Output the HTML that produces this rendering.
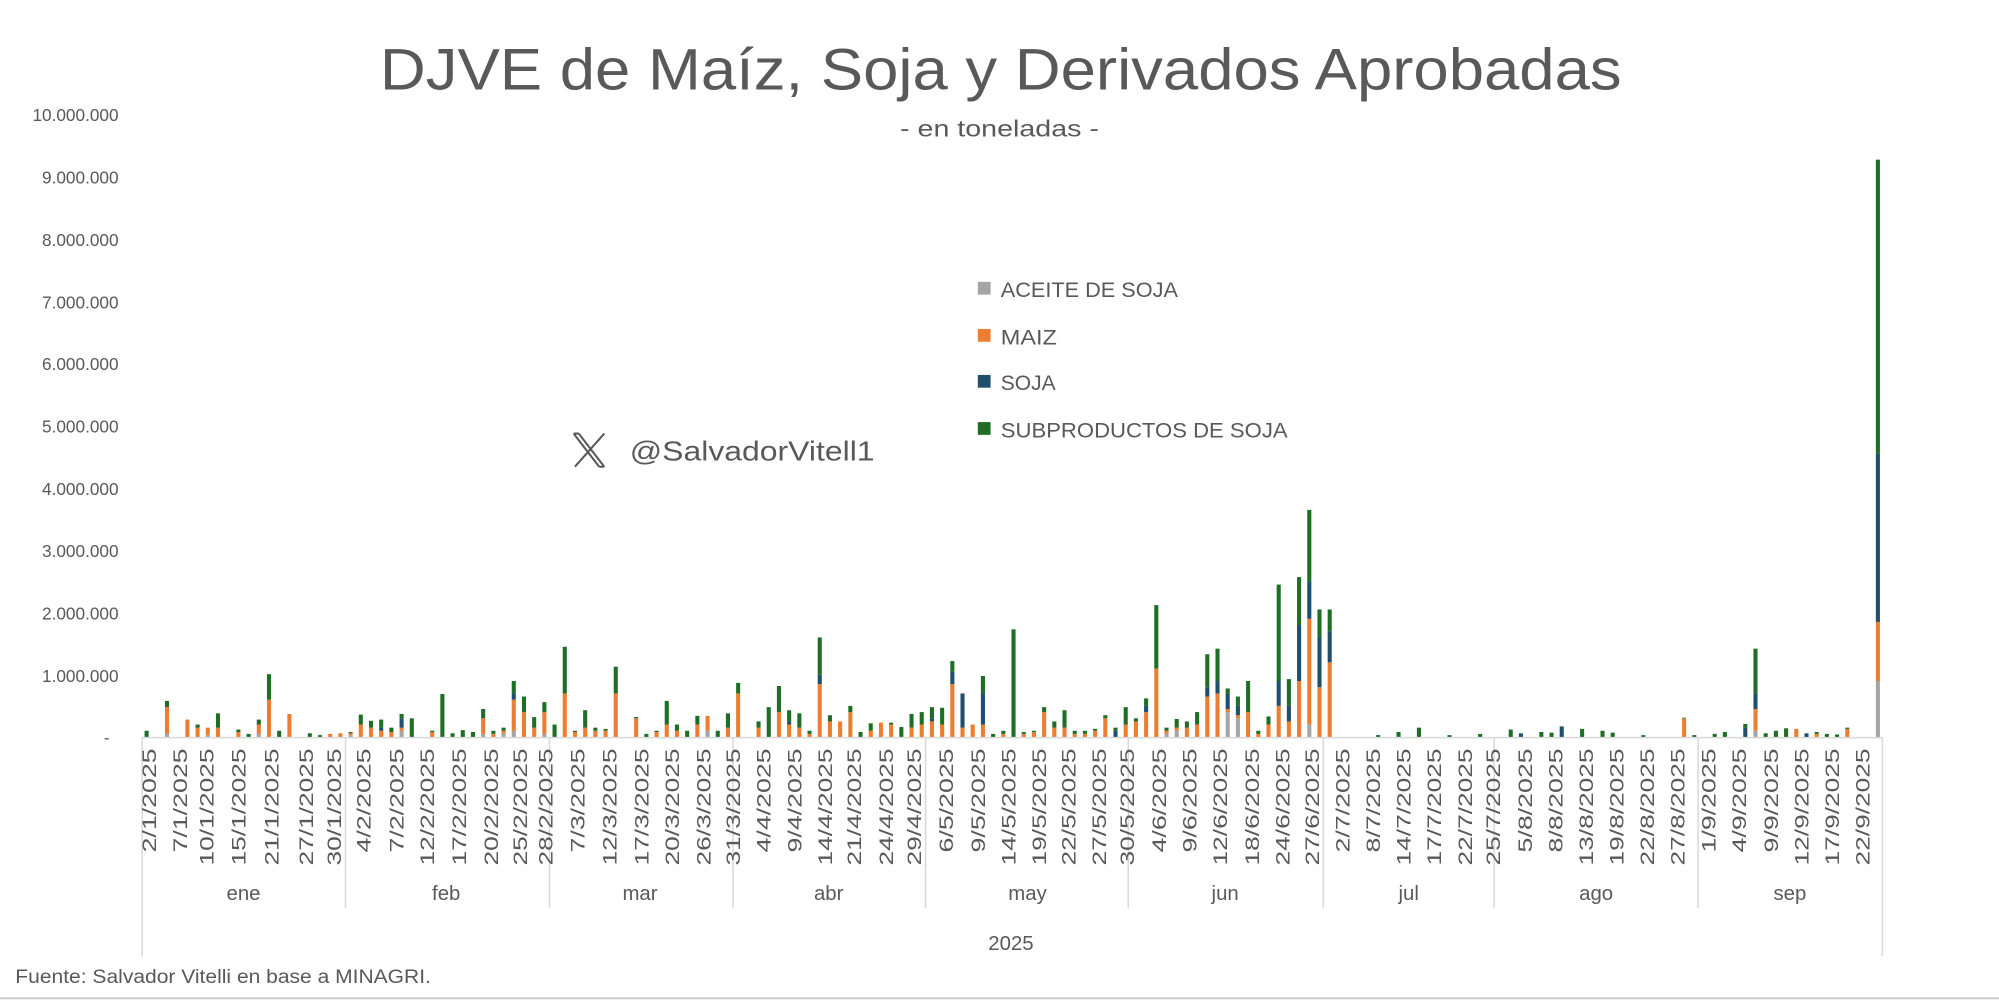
<!DOCTYPE html>
<html><head><meta charset="utf-8"><style>
html,body{margin:0;padding:0;background:#fff;}
svg{display:block;font-family:"Liberation Sans",sans-serif;}
</style></head><body>
<svg id="c" width="1999" height="1001" viewBox="0 0 1568 785" xmlns="http://www.w3.org/2000/svg">
<rect width="1568" height="785" fill="#fff"/>
<text x="785" y="70" font-size="46" fill="#595959" text-anchor="middle" textLength="974" lengthAdjust="spacingAndGlyphs">DJVE de Maíz, Soja y Derivados Aprobadas</text>
<text x="784" y="107" font-size="18" fill="#595959" text-anchor="middle" textLength="156" lengthAdjust="spacingAndGlyphs">- en toneladas -</text>
<g font-size="13.5" fill="#595959" text-anchor="end">
<text x="93" y="95">10.000.000</text>
<text x="93" y="144">9.000.000</text>
<text x="93" y="193">8.000.000</text>
<text x="93" y="242">7.000.000</text>
<text x="93" y="290">6.000.000</text>
<text x="93" y="339">5.000.000</text>
<text x="93" y="388">4.000.000</text>
<text x="93" y="437">3.000.000</text>
<text x="93" y="486">2.000.000</text>
<text x="93" y="535">1.000.000</text>
<text x="86" y="583">-</text>
</g>
<g id="bars"></g>
<g stroke="#d9d9d9" stroke-width="1.2">
<line x1="111" y1="578.5" x2="1476" y2="578.5"/>
<line x1="111.5" y1="578" x2="111.5" y2="750"/>
<line x1="1476.5" y1="578" x2="1476.5" y2="750"/>
<line x1="271" y1="578" x2="271" y2="712"/>
<line x1="431" y1="578" x2="431" y2="712"/>
<line x1="575" y1="578" x2="575" y2="712"/>
<line x1="726" y1="578" x2="726" y2="712"/>
<line x1="885" y1="578" x2="885" y2="712"/>
<line x1="1038" y1="578" x2="1038" y2="712"/>
<line x1="1172" y1="578" x2="1172" y2="712"/>
<line x1="1332" y1="578" x2="1332" y2="712"/>
</g>
<g id="dl" font-size="15" fill="#595959" text-anchor="end"></g>
<g font-size="16" fill="#595959" text-anchor="middle">
<text x="191" y="706">ene</text><text x="350" y="706">feb</text><text x="502" y="706">mar</text>
<text x="650" y="706">abr</text><text x="806" y="706">may</text><text x="961" y="706">jun</text>
<text x="1105" y="706">jul</text><text x="1252" y="706">ago</text><text x="1404" y="706">sep</text>
<text x="793" y="745">2025</text>
</g>
<g font-size="17" fill="#595959">
<rect x="767" y="221" width="10" height="10" fill="#a5a5a5"/><text x="785" y="233" textLength="139" lengthAdjust="spacingAndGlyphs">ACEITE DE SOJA</text>
<rect x="767" y="258" width="10" height="10" fill="#ed7d31"/><text x="785" y="270" textLength="44" lengthAdjust="spacingAndGlyphs">MAIZ</text>
<rect x="767" y="294" width="10" height="10" fill="#1f4e6e"/><text x="785" y="306" textLength="43" lengthAdjust="spacingAndGlyphs">SOJA</text>
<rect x="767" y="331" width="10" height="10" fill="#1e6e26"/><text x="785" y="343" textLength="225" lengthAdjust="spacingAndGlyphs">SUBPRODUCTOS DE SOJA</text>
</g>
<g stroke="#595959" stroke-width="1.6" fill="none">
<path d="M450 340 L470 366 M454 340 L474 366 M450 340 H454 M470 366 H474"/>
<path d="M474 340 L451 366"/>
</g>
<text x="494" y="361" font-size="22" fill="#595959" textLength="192" lengthAdjust="spacingAndGlyphs">@SalvadorVitell1</text>
<text x="12" y="771" font-size="15" fill="#595959" textLength="326" lengthAdjust="spacingAndGlyphs">Fuente: Salvador Vitelli en base a MINAGRI.</text>
<line x1="0" y1="783" x2="1568" y2="783" stroke="#c8c8c8" stroke-width="1.5"/>
</svg>
<script>
var ns='http://www.w3.org/2000/svg';
var labs=[[117,"2/1/2025"],[141,"7/1/2025"],[162,"10/1/2025"],[187,"15/1/2025"],[213,"21/1/2025"],[240,"27/1/2025"],[262,"30/1/2025"],[285,"4/2/2025"],[311,"7/2/2025"],[335,"12/2/2025"],[360,"17/2/2025"],[385,"20/2/2025"],[408,"25/2/2025"],[428,"28/2/2025"],[453,"7/3/2025"],[478,"12/3/2025"],[503,"17/3/2025"],[527,"20/3/2025"],[552,"26/3/2025"],[575,"31/3/2025"],[599,"4/4/2025"],[623,"9/4/2025"],[647,"14/4/2025"],[670,"21/4/2025"],[695,"24/4/2025"],[717,"29/4/2025"],[742,"6/5/2025"],[767,"9/5/2025"],[791,"14/5/2025"],[815,"19/5/2025"],[838,"22/5/2025"],[862,"27/5/2025"],[884,"30/5/2025"],[909,"4/6/2025"],[933,"9/6/2025"],[957,"12/6/2025"],[982,"18/6/2025"],[1006,"24/6/2025"],[1029,"27/6/2025"],[1053,"2/7/2025"],[1077,"8/7/2025"],[1101,"14/7/2025"],[1125,"17/7/2025"],[1149,"22/7/2025"],[1171,"25/7/2025"],[1196,"5/8/2025"],[1220,"8/8/2025"],[1244,"13/8/2025"],[1268,"19/8/2025"],[1292,"22/8/2025"],[1316,"27/8/2025"],[1340,"1/9/2025"],[1364,"4/9/2025"],[1389,"9/9/2025"],[1413,"12/9/2025"],[1437,"17/9/2025"],[1461,"22/9/2025"]];
var dl=document.getElementById('dl');
labs.forEach(function(l){var t=document.createElementNS(ns,'text');t.setAttribute('transform','translate('+(l[0]+5.5)+',587) rotate(-90)');t.setAttribute('textLength',(l[1].length*10.2).toFixed(1));t.setAttribute('lengthAdjust','spacingAndGlyphs');t.textContent=l[1];dl.appendChild(t);});
var d=[[115,0,0,0,100],[131,50,480,480,580],[147,0,280,280,280],[155,0,150,150,200],[163,30,150,150,150],[171,0,150,150,380],[187,0,80,80,120],[195,0,0,0,50],[203,50,200,200,280],[211,0,600,600,1010],[219,0,0,0,100],[227,0,370,370,370],[243,0,0,0,60],[251,0,0,0,30],[259,0,50,50,50],[267,0,60,60,60],
[275,30,60,60,80],[283,0,200,200,360],[291,0,150,150,260],[299,0,100,150,280],[307,0,80,80,150],[315,100,150,300,370],[323,0,0,0,300],[339,0,80,80,100],[347,0,0,0,690],[355,0,0,0,60],[363,0,0,0,110],[371,0,0,0,80],[379,50,300,300,450],[387,0,50,50,100],[395,50,100,100,150],[403,100,600,700,900],[411,0,400,400,650],[419,0,150,150,320],[427,50,400,400,560],
[435,0,0,0,200],[443,0,700,700,1450],[451,0,80,80,100],[459,0,150,150,430],[467,0,100,100,150],[475,0,100,100,130],[483,0,700,700,1130],[499,0,300,300,320],[507,0,0,0,50],[515,0,80,80,100],[523,0,200,200,580],[531,0,100,100,200],[539,0,0,0,100],[547,0,200,200,340],[555,100,340,340,340],[563,0,0,0,100],[571,0,150,150,380],[579,0,700,700,870],
[595,0,150,150,250],[603,0,0,0,480],[611,0,400,400,820],[619,0,200,250,430],[627,0,150,150,380],[635,0,50,50,100],[643,0,850,1000,1600],[651,0,250,250,350],[659,0,250,250,250],[667,0,400,400,500],[675,0,0,0,80],[683,0,100,100,220],[691,0,230,230,230],[699,0,200,200,230],[707,0,0,0,160],[715,0,150,150,370],[723,0,200,200,400],
[731,0,250,300,480],[739,0,200,200,470],[747,0,850,1050,1220],[755,0,150,700,700],[763,0,200,200,200],[771,0,200,700,980],[779,0,0,0,50],[787,0,50,50,100],[795,0,0,0,1730],[803,0,50,50,80],[811,0,80,80,100],[819,0,400,400,480],[827,0,150,150,250],[835,0,150,150,430],[843,0,50,50,100],[851,0,50,50,100],[859,0,100,100,130],[867,0,300,300,350],[875,0,0,100,150],[883,0,200,200,480],
[891,0,250,250,300],[899,0,400,500,620],[907,0,1100,1100,2120],[915,50,100,100,150],[923,100,150,150,290],[931,0,150,150,250],[939,0,200,200,400],[947,0,650,800,1330],[955,0,700,900,1420],[963,400,450,700,780],[971,300,350,500,650],[979,0,400,400,900],[987,0,50,50,100],[995,0,200,200,330],[1003,0,500,900,2450],[1011,0,250,500,930],[1019,0,900,1800,2570],[1027,200,1900,2500,3650],[1035,0,800,1600,2050],[1043,0,1200,1700,2050],
[1081,0,0,0,30],[1097,0,0,0,80],[1113,0,0,0,150],[1137,0,0,0,30],[1161,0,0,0,50],
[1185,0,0,0,120],[1193,0,0,50,60],[1209,0,0,0,80],[1217,0,0,0,70],[1225,0,0,170,170],[1241,0,0,0,130],[1257,0,0,0,100],[1265,0,0,0,70],[1289,0,0,0,30],[1321,0,300,300,310],
[1329,0,0,0,30],[1345,0,0,0,50],[1353,0,0,0,80],[1369,0,0,150,210],[1377,100,450,700,1420],[1385,0,0,0,60],[1393,0,0,0,100],[1401,0,0,0,140],[1409,0,130,130,130],[1417,0,0,50,60],[1425,0,50,50,80],[1433,0,0,0,50],[1441,0,0,0,40],[1449,0,130,130,150],[1473,900,1850,4550,9280]];
var g=document.getElementById('bars'),k=0.0488,cols=['#a5a5a5','#ed7d31','#1f4e6e','#1e6e26'];
d.forEach(function(r){var prev=0;for(var i=0;i<4;i++){var t=r[i+1];if(t>prev){var e=document.createElementNS(ns,'rect');e.setAttribute('x',r[0]-1.6);e.setAttribute('width',3.2);e.setAttribute('y',578-t*k);e.setAttribute('height',(t-prev)*k);e.setAttribute('fill',cols[i]);g.appendChild(e);prev=t;}}});
</script>
</body></html>
